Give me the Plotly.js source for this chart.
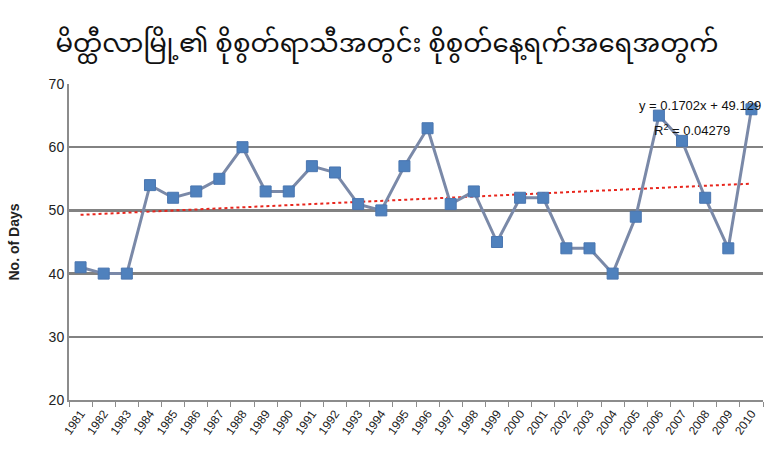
<!DOCTYPE html>
<html><head><meta charset="utf-8">
<script src="https://cdn.plot.ly/plotly-3.0.1.min.js"></script>
<style>html,body{margin:0;padding:0;background:#fff;}#chart{width:774px;height:450px;}</style>
</head><body><div id="chart"></div>
<script>
const years = ["1981","1982","1983","1984","1985","1986","1987","1988","1989","1990","1991","1992","1993","1994","1995","1996","1997","1998","1999","2000","2001","2002","2003","2004","2005","2006","2007","2008","2009","2010"];
const rainyDays = [41,40,40,54,52,53,55,60,53,53,57,56,51,50,57,63,51,53,45,52,52,44,44,40,49,65,61,52,44,66];
const trendSlope = 0.1702;
const trendIntercept = 49.129;
const trendLabel = "y = 0.1702x + 49.129";
const r2Label = "R<sup>2</sup> = 0.04279";
const titleText = "မိတ္ထီလာမြို့၏ စိုစွတ်ရာသီအတွင်း စိုစွတ်နေ့ရက်အရေအတွက်";
const yTitle = "No. of Days";

const trendY = years.map((_, i) => trendSlope * (i + 1) + trendIntercept);

const data = [
  {x: years, y: trendY, type: "scatter", mode: "lines",
   line: {color: "#e8261d", width: 2, dash: "dot"}, hoverinfo: "skip"},
  {x: years, y: rainyDays, type: "scatter", mode: "lines+markers",
   line: {color: "#7a89a8", width: 3},
   marker: {symbol: "square", size: 11, color: "#4f81bd", line: {color: "#4a76b0", width: 1}}}
];

const layout = {
  width: 774, height: 450,
  margin: {l: 69, r: 11, t: 84, b: 50},
  paper_bgcolor: "#fff", plot_bgcolor: "#fff",
  showlegend: false,
  title: {text: titleText, x: 0.5, xanchor: "center", y: 0.905, yanchor: "middle",
          font: {family: "Noto Sans Myanmar, Padauk, Myanmar Text, Noto Sans, sans-serif", size: 26, color: "#111"}},
  xaxis: {type: "category", range: [-0.5, 29.5], tickson: "boundaries",
          showgrid: false, showline: true, linecolor: "#8c8c8c", linewidth: 2,
          ticks: "outside", ticklen: 5, tickcolor: "#8c8c8c", tickwidth: 1,
          tickangle: -55, tickfont: {family: "Liberation Sans Narrow, Liberation Sans, sans-serif", size: 12, color: "#222"},
          zeroline: false, fixedrange: true},
  yaxis: {range: [20, 70], dtick: 10, tick0: 20,
          showgrid: true, gridcolor: "#828282", gridwidth: 2.5,
          showline: true, linecolor: "#8c8c8c", linewidth: 2,
          ticks: "", tickfont: {family: "Liberation Sans Narrow, Liberation Sans, sans-serif", size: 14, color: "#222"},
          zeroline: false,
          title: {text: "<b>" + yTitle + "</b>", standoff: 26,
                  font: {family: "Liberation Sans, Arial, sans-serif", size: 14, color: "#222"}}},
  annotations: [
    {xref: "paper", yref: "paper", x: 1.0, y: 0.932, xanchor: "right", yanchor: "middle",
     text: trendLabel, showarrow: false,
     font: {family: "Liberation Sans Narrow, Liberation Sans, sans-serif", size: 13, color: "#111"}},
    {xref: "paper", yref: "paper", x: 0.955, y: 0.855, xanchor: "right", yanchor: "middle",
     text: r2Label, showarrow: false,
     font: {family: "Liberation Sans Narrow, Liberation Sans, sans-serif", size: 13, color: "#111"}}
  ]
};

Plotly.newPlot("chart", data, layout, {displayModeBar: false, staticPlot: true});
</script>
</body></html>
